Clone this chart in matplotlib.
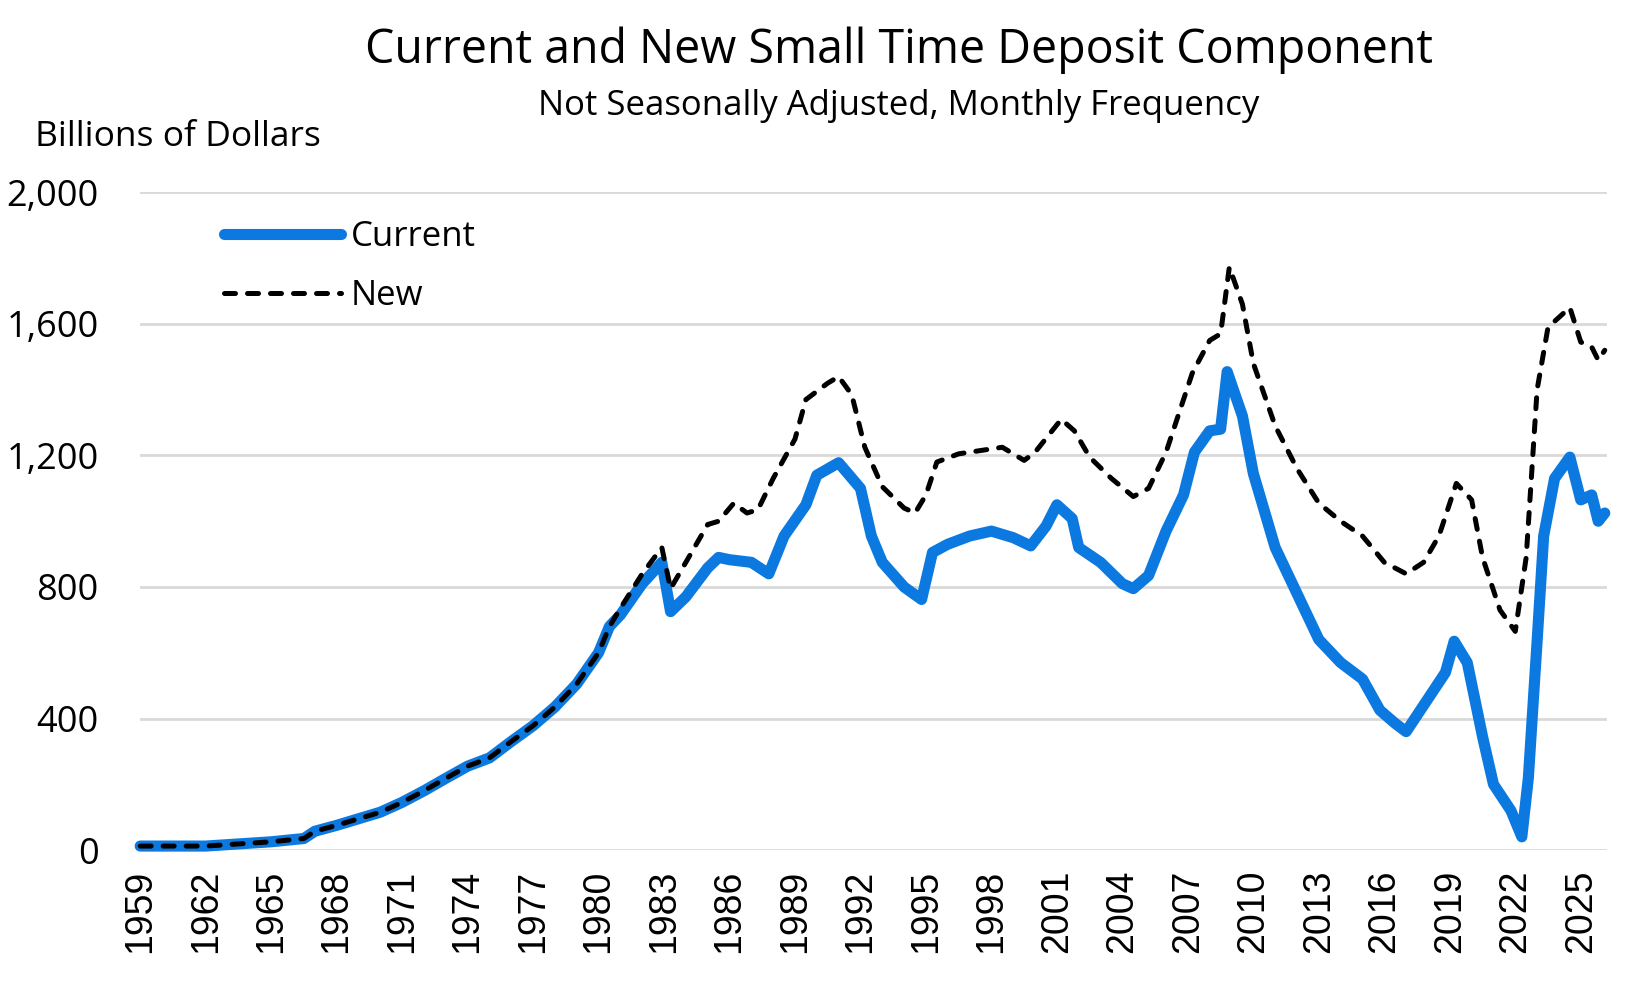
import matplotlib
matplotlib.use("Agg")
import matplotlib.pyplot as plt

# values (billions of dollars)
current_years = [1959, 1962, 1965, 1966.5, 1967, 1968, 1969, 1970, 1971, 1972, 1973,
                 1974, 1975, 1976, 1977, 1978, 1979, 1980, 1980.5, 1981, 1982,
                 1982.9, 1983.3, 1984, 1985, 1985.5, 1986, 1987, 1987.8, 1988.5,
                 1989.5, 1990, 1991, 1992, 1992.5, 1993, 1994, 1994.8, 1995.3,
                 1996, 1997, 1998, 1999, 1999.8, 2000.5, 2001, 2001.7, 2002, 2003,
                 2004, 2004.5, 2005.2, 2006, 2006.8, 2007.3, 2008, 2008.5, 2008.8,
                 2009.5, 2010, 2011, 2012, 2013, 2014, 2015, 2015.8, 2016.5, 2017,
                 2017.5, 2018, 2018.8, 2019.2, 2019.8, 2020.5, 2021, 2021.8, 2022.3,
                 2022.6, 2023, 2023.3, 2023.8, 2024.5, 2025, 2025.5, 2025.8, 2026.1]
current_vals = [12, 12, 25, 35, 57, 75, 95, 115, 145, 180, 218,
                255, 280, 330, 378, 435, 505, 600, 680, 715, 810,
                875, 725, 770, 858, 890, 883, 875, 840, 955,
                1050, 1140, 1178, 1100, 955, 875, 800, 762, 905,
                930, 955, 970, 950, 925, 985, 1050, 1008, 920, 875,
                810, 795, 835, 970, 1080, 1210, 1275, 1280, 1455,
                1320, 1145, 920, 780, 640, 570, 520, 425, 385, 360,
                410, 460, 540, 635, 570, 345, 200, 120, 40,
                220, 635, 955, 1130, 1195, 1065, 1080, 1000, 1025]

new_years = [1959, 1962, 1965, 1966.5, 1967, 1968, 1969, 1970, 1971, 1972, 1973,
             1974, 1975, 1976, 1977, 1978, 1979, 1980, 1980.5, 1981, 1982,
             1982.9, 1983.3, 1984, 1985, 1985.5, 1986.2, 1986.8, 1987.3, 1988,
             1989, 1989.5, 1990.5, 1991, 1991.6, 1992.2, 1993, 1994, 1994.5,
             1995, 1995.5, 1996.5, 1997.5, 1998.5, 1999.5, 2000, 2001.2, 2001.8,
             2002.5, 2003.5, 2004.5, 2005.2, 2006, 2007.2, 2008, 2008.5, 2008.9,
             2009.5, 2010, 2011, 2012, 2013, 2014, 2015, 2016, 2017, 2017.8,
             2018.5, 2019.3, 2020, 2020.5, 2021.3, 2022, 2022.5, 2023, 2023.5,
             2024.5, 2025, 2025.5, 2025.8, 2026.1]
new_vals = [12, 12, 25, 35, 57, 75, 95, 115, 145, 180, 218,
            255, 280, 330, 378, 435, 505, 600, 680, 735, 840,
            920, 795, 875, 990, 1000, 1055, 1025, 1035, 1130,
            1250, 1370, 1420, 1440, 1385, 1225, 1105, 1040, 1025,
            1080, 1180, 1205, 1215, 1225, 1185, 1210, 1310, 1275,
            1195, 1130, 1075, 1100, 1210, 1450, 1550, 1570, 1773,
            1660, 1480, 1290, 1160, 1055, 1000, 955, 875, 840, 875,
            955, 1115, 1065, 890, 730, 665, 890, 1400, 1590,
            1650, 1545, 1530, 1490, 1520]

tick_years = list(range(1959, 2026, 3))
y_ticks = [0, 400, 800, 1200, 1600, 2000]

plt.rcParams['font.family'] = ['Open Sans', 'DejaVu Sans']

fig = plt.figure(figsize=(16.49, 9.9), dpi=100)
ax = fig.add_axes([0.085, 0.1414, 0.8895, 0.6642])

ax.plot(current_years, current_vals, color='#0B79DF', lw=8,
        solid_capstyle='round', solid_joinstyle='round', label='Current', clip_on=False)
ax.plot(new_years, new_vals, color='black', lw=3.6, dashes=(2.2, 2.4),
        dash_capstyle='round', label='New', clip_on=False)

ax.set_xlim(1959, 2026.2)
ax.set_ylim(0, 2000)
ax.set_yticks(y_ticks)
ax.set_yticklabels([f"{v:,}" for v in y_ticks], fontsize=26)
ax.set_xticks(tick_years)
ax.set_xticklabels([str(y) for y in tick_years], rotation=90, fontsize=27,
                   family='Liberation Sans')
ax.tick_params(axis='y', length=0, pad=30)
ax.tick_params(axis='x', length=0, pad=14)
ax.grid(axis='y', color='#d9d9d9', lw=2)
ax.set_axisbelow(True)
for s in ax.spines.values():
    s.set_visible(False)

fig.text(0.545, 0.949, 'Current and New Small Time Deposit Component',
         ha='center', va='center', fontsize=33.5)
fig.text(0.545, 0.893, 'Not Seasonally Adjusted, Monthly Frequency',
         ha='center', va='center', fontsize=25)
fig.text(0.021, 0.862, 'Billions of Dollars', ha='left', va='center', fontsize=25.5)

ax.legend(loc='upper left', bbox_to_anchor=(0.036, 1.005), frameon=False,
          fontsize=25, handlelength=3.35, handletextpad=0.3, labelspacing=0.72)

fig.savefig('out.png', dpi=100)
